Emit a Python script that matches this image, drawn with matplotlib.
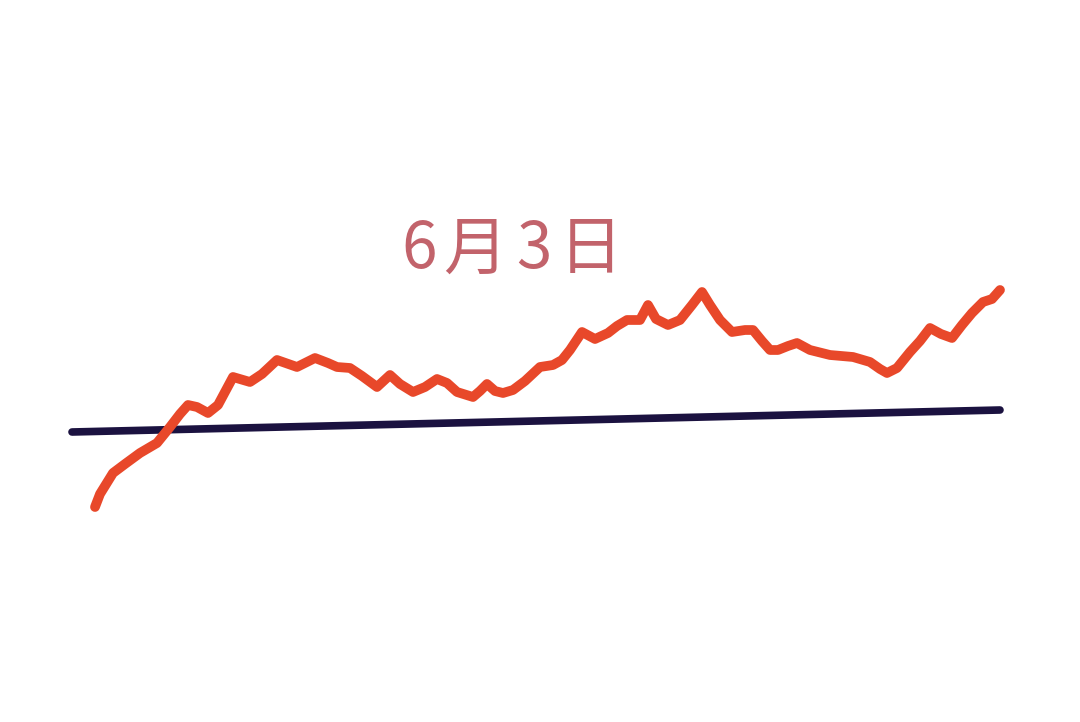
import matplotlib.pyplot as plt

# trend values (image pixel coordinates, y grows downward)
price_x = [95, 100, 113, 125, 140, 157, 170, 180, 188, 197, 208, 218, 233, 250, 262, 277,
           297, 315, 328, 337, 350, 362, 377, 390, 400, 413, 425, 437, 447, 457, 473,
           480, 487, 495, 503, 513, 525, 540, 553, 562, 570, 582, 595, 608, 617, 627,
           640, 648, 656, 668, 680, 692, 702, 710, 720, 732, 745, 753, 762, 770, 778,
           788, 797, 810, 830, 853, 870, 880, 887, 897, 910, 920, 930, 941, 952,
           962, 972, 983, 992, 1000]
price_y = [507, 494, 473, 464, 453, 443, 427, 414, 405, 407, 413, 405, 377, 382, 374, 360,
           367, 358, 363, 367, 368, 376, 387, 375, 384, 392, 387, 379, 383, 392, 397,
           391, 384, 391, 393, 390, 381, 367, 365, 360, 350, 332, 339, 333, 326, 320,
           320, 305, 319, 325, 320, 305, 292, 305, 320, 332, 330, 330, 341, 350, 350,
           346, 343, 350, 355, 357, 362, 369, 373, 368, 352, 341, 328, 334, 338,
           325, 313, 302, 299, 290]

base_x = [72, 1000]
base_y = [432, 410]

label = "6月3日"
label_x = [419, 475, 534, 591]  # the glyphs are spread out in the original

fig = plt.figure(figsize=(10.8, 7.22), dpi=100)
ax = fig.add_axes([0, 0, 1, 1])
ax.set_xlim(0, 1080)
ax.set_ylim(722, 0)
ax.set_axis_off()

ax.plot(base_x, base_y, color="#1b1240", lw=5.5, solid_capstyle="round", zorder=2)
ax.plot(price_x, price_y, color="#e8482a", lw=7, solid_capstyle="round",
        solid_joinstyle="round", zorder=3)

for ch, cx in zip(label, label_x):
    ax.text(cx, 250, ch, color="#c2636b", fontsize=46, ha="center", va="center",
            family=["Noto Sans CJK SC", "DejaVu Sans"])

fig.savefig("out.png", dpi=100, facecolor="white")
